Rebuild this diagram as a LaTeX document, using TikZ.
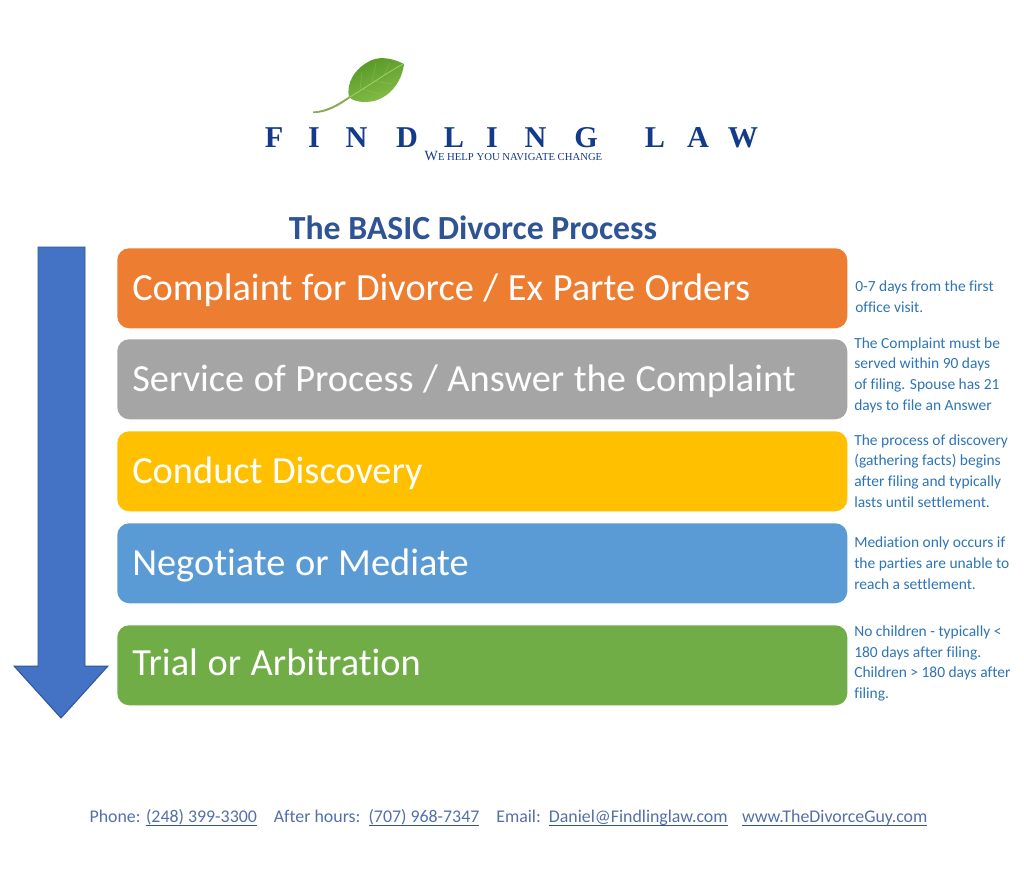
\documentclass[tikz,border=0pt]{standalone}
\usepackage{fontspec}
\setmainfont[Ligatures=NoCommon]{Carlito}
\newfontfamily\logofont{Liberation Serif}
\usetikzlibrary{positioning}
\definecolor{logoblue}{RGB}{20,58,138}
\definecolor{titleblue}{RGB}{47,84,150}
\definecolor{noteblue}{RGB}{46,117,182}
\definecolor{footblue}{RGB}{84,112,170}
\definecolor{footline}{RGB}{47,85,151}
\definecolor{arrowblue}{RGB}{68,114,196}
\definecolor{arrowedge}{RGB}{47,85,151}
\definecolor{stepa}{RGB}{237,125,49}
\definecolor{stepb}{RGB}{165,165,165}
\definecolor{stepc}{RGB}{255,192,0}
\definecolor{stepd}{RGB}{91,155,213}
\definecolor{stepe}{RGB}{112,173,71}
\definecolor{leafdark}{RGB}{84,150,38}
\definecolor{leaflight}{RGB}{135,190,72}
\definecolor{leafvein}{RGB}{170,210,110}
\definecolor{stemcol}{RGB}{140,170,90}
\def\px{0.025cm}
\newcommand{\fsz}[1]{\fontsize{#1}{#1}\selectfont}
\newcommand{\ulink}[1]{\sbox0{#1}\rlap{\textcolor{footline}{\rule[-2.4pt]{\wd0}{0.9pt}}}\usebox0}
\tikzset{
  stepbox/.style={rounded corners=12*\px, minimum width=730*\px, minimum height=80*\px,
    anchor=north west, inner xsep=15*\px, inner ysep=0pt, text=white, text width=700*\px,
    align=left, text height=23pt, font=\fsz{27.3}},
  notebox/.style={anchor=west, inner sep=0pt, text=noteblue, align=left,
    font=\fontsize{11}{14.75}\selectfont},
  logoletter/.style={anchor=base, inner sep=0pt, text=logoblue, font=\logofont\bfseries\fsz{21.5}},
}

\begin{document}
\begin{tikzpicture}[x=\px, y=-\px]

  \useasboundingbox (0,0) rectangle (1024,886);
  \fill[white] (0,0) rectangle (1024,886);

  % Leaf and stem
  \fill[stemcol] (313,111.5) .. controls (326,111) and (338,104) .. (349,96.5)
    -- (350,98) .. controls (339,106) and (326,113.5) .. (313,113) -- cycle;
  \shade[top color=leaflight, bottom color=leafdark, shading angle=200]
    (349,97) .. controls (346,84) and (354,68) .. (372,60)
    .. controls (382,56) and (394,59) .. (404,64)
    .. controls (402,80) and (392,96) .. (374,101)
    .. controls (364,103) and (354,102) .. (349,97) -- cycle;
  \draw[leafvein, line width=0.5pt] (350,97) .. controls (365,88) and (385,74) .. (403,64);
  \foreach \vx/\vy/\ex/\ey in {360/90/362/72,372/82/376/63,384/75/390/63,362/89/380/94,374/81/392/84}{
    \draw[leafvein, opacity=0.45, line width=0.3pt] (\vx,\vy) -- (\ex,\ey);
  }

  % Logo letters
  \foreach \ltr/\xpos/\k in {F/274/1,I/314/2,N/356.5/3,D/407/4,L/454/5,I/492/6,N/535.6/7,G/586/8,L/655/9,A/698/10,W/743/11}{
    \node[logoletter] (logo\k) at (\xpos,148) {\ltr};
  }
  \node[inner sep=0pt, text=logoblue, font=\logofont\fsz{7.6}] (tagline) at (513.5,156)
    {{\fsz{10}W}E HELP YOU NAVIGATE CHANGE};

  \node[inner sep=0pt, text=titleblue, font=\bfseries\fsz{24}] (title) at (473,228)
    {The BASIC Divorce Process};

  % Timeline arrow
  \draw[fill=arrowblue, draw=arrowedge, line width=0.7pt]
    (38,247) -- (85,247) -- (85,666) -- (108,666) -- (61,718) -- (14,666) -- (38,666) -- cycle;

  % Process steps
  \foreach \i/\ypos/\col/\tdp/\lbl in {
    1/248/stepa/6/{Complaint for Divorce / Ex Parte Orders},
    2/339/stepb/6/{Service of Process / Answer the Complaint},
    3/431/stepc/6/{Conduct Discovery},
    4/523/stepd/6/{Negotiate or Mediate},
    5/625/stepe/8.8/{Trial or Arbitration}}{
    \node[stepbox, fill=\col, text depth=\tdp pt] (step\i) at (117,\ypos) {\spaceskip=6.8pt\relax\lbl};
  }

  % Side notes
  \node[notebox] (note1) at (855,297) {0-7 days from the first\\office visit.};
  \node[notebox] (note2) at (854,375) {The Complaint must be\\served within 90 days\\of filing.  Spouse has 21\\days to file an Answer};
  \node[notebox] (note3) at (854,471) {The process of discovery\\(gathering facts) begins\\after filing and typically\\lasts until settlement.};
  \node[notebox] (note4) at (854,563) {Mediation only occurs if\\the parties are unable to\\reach a settlement.};
  \node[notebox] (note5) at (854,663.5) {No children - typically <\\180 days after filing.\\Children > 180 days after\\filing.};

  \node[inner sep=0pt, text=footblue, font=\fsz{12.7}] (contact) at (508.5,818)
    {Phone: \ulink{(248) 399-3300}\hspace{0.95em}After hours:\ \ \ulink{(707) 968-7347}\hspace{0.95em}Email:\ \ \ulink{Daniel@Findlinglaw.com}\hspace{0.8em}\ulink{www.TheDivorceGuy.com}};

\end{tikzpicture}
\end{document}
